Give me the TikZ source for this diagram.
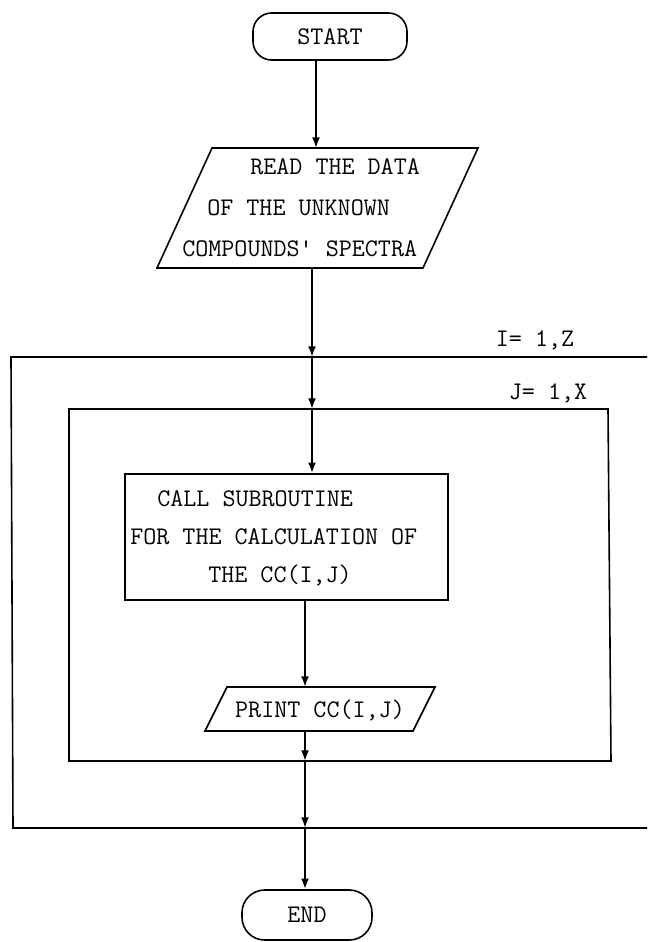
\documentclass[tikz,border=0pt]{standalone}
\usepackage{fontspec}
\usetikzlibrary{arrows.meta,calc}

\tikzset{
  box/.style={draw=black, line width=1.2pt},
  flow/.style={draw=black, line width=1.5pt, -{Latex[length=8pt,width=6pt]}},
  txt/.style={inner sep=0pt, font=\fontsize{19}{19}\selectfont\ttfamily},
  term/.style={box, rounded corners=14pt, inner sep=0pt, font=\fontsize{19}{19}\selectfont\ttfamily},
}

\begin{document}
\begin{tikzpicture}[x=0.75pt, y=-0.75pt]
  \useasboundingbox (0,0) rectangle (647,942);

  % terminals
  \node[term, minimum width=115.5pt, minimum height=35.25pt] (start) at (330,36.5) {START};
  \node[term, rounded corners=17pt, minimum width=97.5pt, minimum height=37.5pt] (end) at (307,915) {END};

  % input parallelogram
  \draw[box] (212,148) -- (478,148) -- (423,268) -- (157,268) -- cycle;
  \coordinate (readtop) at (316,148);
  \coordinate (readbot) at (312,268);
  \node[txt, anchor=west] (read1) at (250,167) {READ THE DATA};
  \node[txt, anchor=west] (read2) at (207,208) {OF THE UNKNOWN};
  \node[txt, anchor=west] (read3) at (182,249) {COMPOUNDS' SPECTRA};

  % outer loop I
  \draw[box] (647,357) -- (11,357) -- (13,828) -- (647,828);
  \coordinate (outtop) at (312,357);
  \coordinate (outbot) at (305,828);
  \node[txt] (ilabel) at (535,340) {I= 1,Z};

  % inner loop J
  \draw[box] (69,409) -- (608,409) -- (611,761) -- (69,761) -- cycle;
  \coordinate (intop) at (312,409);
  \coordinate (inbot) at (305,761);
  \node[txt] (jlabel) at (548,393) {J= 1,X};

  % subroutine call
  \node[box, minimum width=242.25pt, minimum height=94.5pt] (call) at (286.5,537) {};
  \node[txt, anchor=west] (call1) at (157,499) {CALL SUBROUTINE};
  \node[txt, anchor=west] (call2) at (130,537) {FOR THE CALCULATION OF};
  \node[txt, anchor=west] (call3) at (208,575) {THE CC(I,J)};

  % output parallelogram
  \draw[box] (227,687) -- (435,687) -- (413,731) -- (205,731) -- cycle;
  \coordinate (prtop) at (305,687);
  \coordinate (prbot) at (305,731);
  \node[txt] (print) at (320,710) {PRINT CC(I,J)};

  % flow lines
  \draw[flow] (start.south -| readtop) -- (readtop);
  \draw[flow] (readbot) -- (outtop);
  \draw[flow] (outtop) -- (intop);
  \draw[flow] (intop) -- (call.north -| intop);
  \draw[flow] (call.south -| prtop) -- (prtop);
  \draw[flow] (prbot) -- (inbot);
  \draw[flow] (inbot) -- (outbot);
  \draw[flow] (outbot) -- (end.north -| outbot);
\end{tikzpicture}
\end{document}
